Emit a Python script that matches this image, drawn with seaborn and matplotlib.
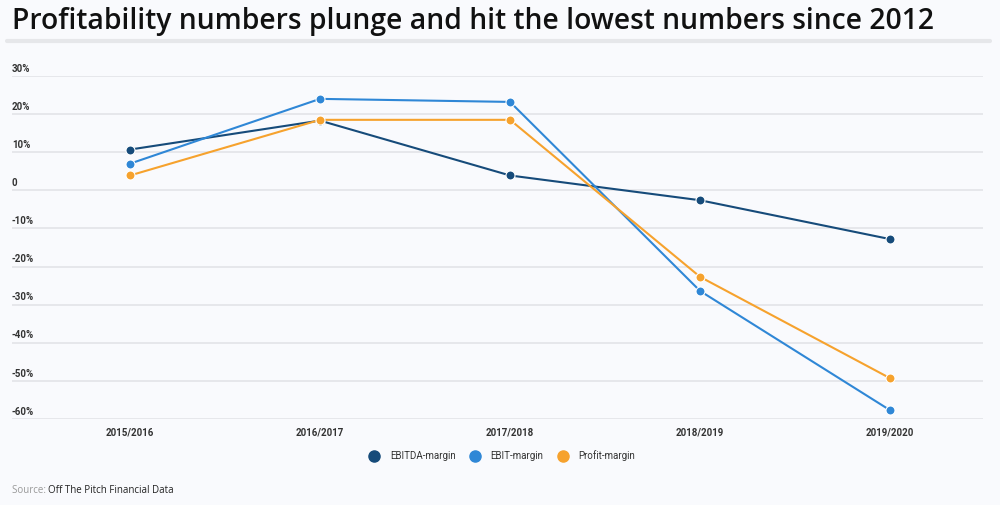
import numpy as np
import pandas as pd
import matplotlib
matplotlib.use("Agg")
import matplotlib.pyplot as plt
import seaborn as sns

seasons = ["2015/2016", "2016/2017", "2017/2018", "2018/2019", "2019/2020"]
ebitda_margin = [10.7, 18.3, 3.9, -2.6, -12.8]
ebit_margin = [7.0, 24.0, 23.2, -26.4, -57.7]
profit_margin = [3.9, 18.5, 18.5, -22.7, -49.3]
y_ticks = [30, 20, 10, 0, -10, -20, -30, -40, -50, -60]
y_labels = ["30%", "20%", "10%", "0", "-10%", "-20%", "-30%", "-40%", "-50%", "-60%"]

colors = {"EBITDA-margin": "#164b7a", "EBIT-margin": "#2f87d6", "Profit-margin": "#f6a22d"}
bg = "#f9fafd"

df = pd.DataFrame({
    "season": seasons * 3,
    "value": ebitda_margin + ebit_margin + profit_margin,
    "series": ["EBITDA-margin"] * 5 + ["EBIT-margin"] * 5 + ["Profit-margin"] * 5,
})
df["x"] = df["season"].map({s: i for i, s in enumerate(seasons)})

sns.set_theme(style="white")
plt.rcParams["font.family"] = ["Roboto", "DejaVu Sans"]

fig = plt.figure(figsize=(10, 5.05), dpi=100, facecolor=bg)
ax = fig.add_axes([0.012, 0.1703, 0.971, 0.6792])
ax.set_facecolor(bg)

sns.lineplot(data=df, x="x", y="value", hue="series", palette=colors,
             marker="o", markersize=6.5, markeredgecolor="white", markeredgewidth=0.8,
             linewidth=1.5, ax=ax, legend=False)

ax.set_xlim(-0.621, 4.489)
ax.set_ylim(-60, 30)
ax.set_xticks(range(len(seasons)))
ax.set_xticklabels(seasons, fontsize=7, fontweight="bold", color="#333333")
ax.tick_params(axis="x", length=0, pad=6)
ax.set_yticks(y_ticks)
ax.set_yticklabels([])
ax.tick_params(axis="y", length=0)
for v, lab in zip(y_ticks, y_labels):
    ax.text(0, v + 0.6, lab, transform=ax.get_yaxis_transform(), fontsize=7,
            fontweight="bold", color="#333333", ha="left", va="bottom")
ax.grid(axis="y", color="#e3e4e8", linewidth=1.2)
ax.set_axisbelow(True)
for s in ax.spines.values():
    s.set_visible(False)
ax.set_xlabel("")
ax.set_ylabel("")

# legend
handles = [plt.Line2D([], [], marker="o", linestyle="", markersize=8,
                      markerfacecolor=c, markeredgecolor=c) for c in colors.values()]
fig.legend(handles, list(colors.keys()), loc="center", bbox_to_anchor=(0.5, 0.097),
           ncol=3, frameon=False, fontsize=7, handletextpad=0.6, columnspacing=1.0,
           labelcolor="#333333")

# title and separator
fig.text(0.012, 0.958, "Profitability numbers plunge and hit the lowest numbers since 2012",
         fontsize=20.3, fontweight="semibold", family=["Open Sans", "DejaVu Sans"],
         color="#111111", ha="left", va="center")
fig.add_artist(plt.Line2D([0.007, 0.99], [0.918, 0.918], color="#e6e7ea", linewidth=3))

fig.text(0.012, 0.028, "Source: ", fontsize=7, color="#999999", ha="left", va="center",
         family=["Open Sans", "DejaVu Sans"])
fig.text(0.048, 0.028, "Off The Pitch Financial Data", fontsize=7, color="#222222",
         ha="left", va="center", family=["Open Sans", "DejaVu Sans"])

fig.savefig("out.png", dpi=100, facecolor=bg)
